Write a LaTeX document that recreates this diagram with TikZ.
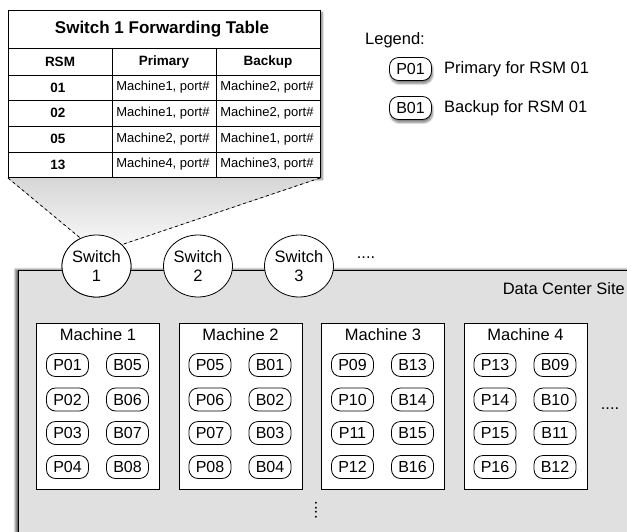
\documentclass[tikz,border=0pt]{standalone}
\usepackage{fontspec}
\setmainfont{Liberation Sans}
\usetikzlibrary{shapes.geometric,shadows.blur}
\definecolor{dcgray}{HTML}{E0E0E0}
\begin{document}
\begin{tikzpicture}[x=1pt,y=-1pt,
  every node/.style={text=black},
  pill/.style={draw, rounded corners=9pt, minimum width=42pt, minimum height=23pt, inner sep=0pt, fill=white, font=\fontsize{16}{16}\selectfont, line width=0.8pt},
  legpill/.style={pill, blur shadow={shadow xshift=1pt, shadow yshift=-3pt, shadow blur steps=6, shadow opacity=50}},
  machine/.style={draw, fill=white, minimum width=123pt, minimum height=166pt, line width=0.8pt, anchor=north west, inner sep=0pt},
  switchnode/.style={draw, ellipse, fill=white, minimum width=69pt, minimum height=62pt, inner sep=0pt, align=center, font=\fontsize{16.5}{19}\selectfont, line width=0.8pt},
  lbl/.style={font=\fontsize{16.5}{19}\selectfont, inner sep=0pt},
  ttitle/.style={font=\bfseries\fontsize{17}{19}\selectfont, inner sep=0pt},
  thead/.style={font=\bfseries\fontsize{13.5}{15}\selectfont, inner sep=0pt},
  tcell/.style={font=\fontsize{13}{14}\selectfont, inner sep=0pt},
  tline/.style={line width=0.8pt},
  dots/.style={font=\fontsize{16.5}{19}\selectfont, inner sep=0pt}
]
\useasboundingbox (0,0) rectangle (627,531);
\clip (0,0) rectangle (627,531);

% data center site
\node[draw, fill=dcgray, line width=0.8pt, anchor=north west, minimum width=640pt, minimum height=300pt,
  blur shadow={shadow xshift=-3pt, shadow yshift=1pt, shadow blur steps=6, shadow opacity=60}] (dc) at (18,270) {};
\node[lbl, anchor=east] (dclabel) at (625,289) {Data Center Site};

% switches
\node[switchnode] (sw1) at (96.5,266) {Switch\\1};
\node[switchnode] (sw2) at (198,266) {Switch\\2};
\node[switchnode] (sw3) at (299,266) {Switch\\3};
\node[dots] (swdots) at (366,258) {....};

% table shadow
\node[draw, tline, fill=white, anchor=north west, minimum width=312pt, minimum height=167pt, inner sep=0pt,
  blur shadow={shadow xshift=2pt, shadow yshift=-2pt, shadow blur steps=6, shadow opacity=50}] (tbl) at (8,10) {};

% callout
\coordinate (cl) at (8,178);
\coordinate (cr) at (320,178);
\fill[top color=gray!32, bottom color=gray!6] (cl) -- (cr) -- (sw1.40) -- (sw1.120) -- cycle;
\draw[dashed, line width=0.8pt] (cl) -- (sw1.120);
\draw[dashed, line width=0.8pt] (cr) -- (sw1.40);
\node[switchnode] (sw1b) at (96.5,266) {Switch\\1};

% table on top of callout
\node[draw, tline, fill=white, anchor=north west, minimum width=312pt, minimum height=167pt, inner sep=0pt] (tblb) at (8,10) {};
\draw[tline] (8,48) -- (320,48);
\foreach \y in {75,100,126,152} \draw[tline] (8,\y) -- (320,\y);
\draw[tline] (112,48) -- (112,177);
\draw[tline] (216,48) -- (216,177);
\node[ttitle] (ttl) at (162,29) {Switch 1 Forwarding Table};
\node[thead] (h1) at (60,62) {RSM};
\node[thead] (h2) at (164,62) {Primary};
\node[thead] (h3) at (268,62) {Backup};
\foreach \i/\y/\r/\p/\b in {1/87.5/01/Machine1/Machine2, 2/113/02/Machine1/Machine2, 3/139/05/Machine2/Machine1, 4/164.5/13/Machine4/Machine3}{
  \node[thead] (r\i) at (58,\y) {\r};
  \node[tcell] (p\i) at (163,\y) {\p, port\#};
  \node[tcell] (b\i) at (267,\y) {\b, port\#};
}

% legend
\node[lbl, anchor=west] (leg) at (365,40) {Legend:};
\node[legpill] (lp) at (410.5,69) {P01};
\node[lbl, anchor=west] (lpt) at (444,69) {Primary for RSM 01};
\node[legpill] (lb) at (410.5,108) {B01};
\node[lbl, anchor=west] (lbt) at (444,108) {Backup for RSM 01};

% machines
\foreach \m/\x/\pa/\pb/\pc/\pd/\ba/\bb/\bc/\bd in {
  1/36/01/02/03/04/05/06/07/08,
  2/178.5/05/06/07/08/01/02/03/04,
  3/321/09/10/11/12/13/14/15/16,
  4/463.5/13/14/15/16/09/10/11/12}{
  \node[machine] (m\m) at (\x,323) {};
  \node[lbl] (m\m t) at ([yshift=-12pt]m\m.north) {Machine \m};
  \node[pill] (m\m p1) at (\x+31.5,365) {P\pa};
  \node[pill] (m\m p2) at (\x+31.5,399.5) {P\pb};
  \node[pill] (m\m p3) at (\x+31.5,433) {P\pc};
  \node[pill] (m\m p4) at (\x+31.5,467) {P\pd};
  \node[pill] (m\m b1) at (\x+91.5,365) {B\ba};
  \node[pill] (m\m b2) at (\x+91.5,399.5) {B\bb};
  \node[pill] (m\m b3) at (\x+91.5,433) {B\bc};
  \node[pill] (m\m b4) at (\x+91.5,467) {B\bd};
}

\node[dots] (hdots) at (610,409) {....};
\node[dots, rotate=90] (vdots) at (316,510) {....};
\end{tikzpicture}
\end{document}
